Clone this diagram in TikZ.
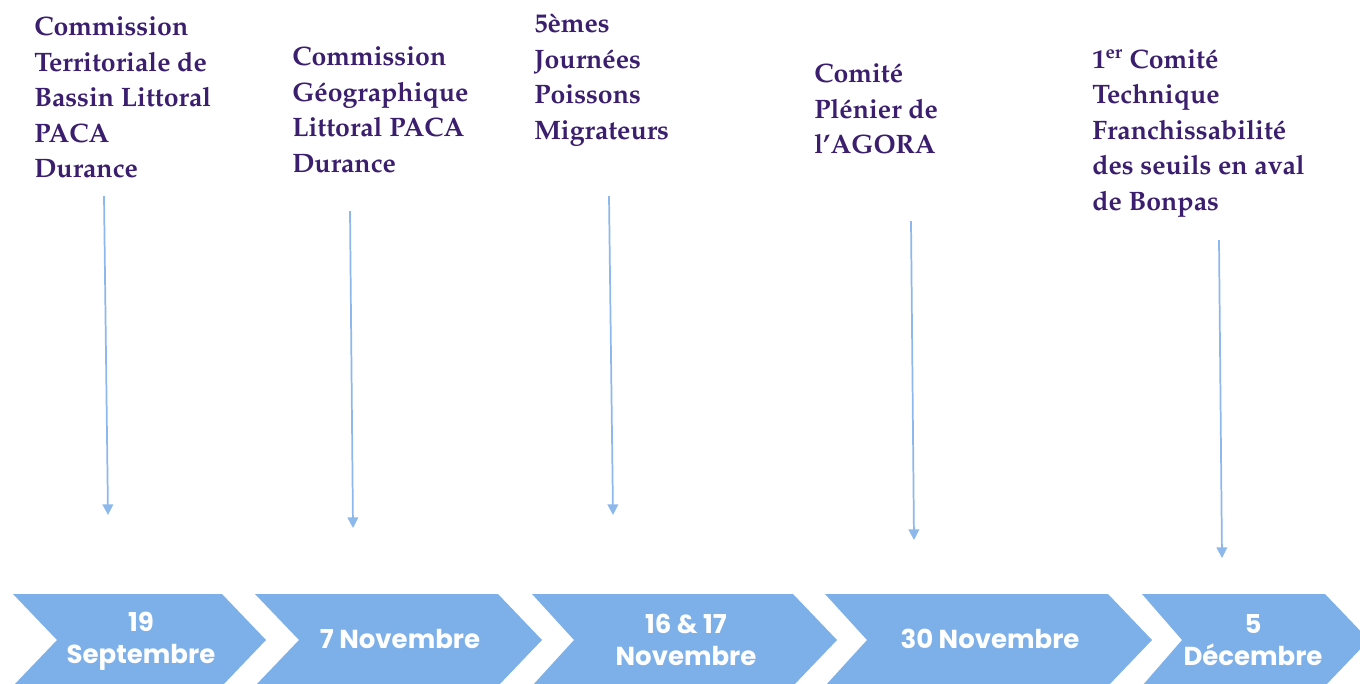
\documentclass[tikz,border=0pt]{standalone}
\usepackage[T1]{fontenc}
\usepackage{fontspec}
\usepackage{tikz}
\usetikzlibrary{arrows.meta}
\newfontfamily\datefont{Poppins}
\definecolor{chevblue}{HTML}{7DB0E9}
\definecolor{arrowblue}{HTML}{8CB8EC}
\definecolor{eventpurple}{HTML}{3B1F6E}
\newcommand{\eventfont}{\fontencoding{T1}\fontfamily{ppl}\bfseries\fontsize{20}{26.6}\selectfont}

\tikzset{
	event/.style={anchor=north west, inner sep=0pt, align=left, text=eventpurple, font=\eventfont},
	datelabel/.style={align=center, inner sep=0pt, text=white, font=\datefont\bfseries\fontsize{19.5}{24}\selectfont},
	chevron/.style={fill=chevblue, draw=none},
	link/.style={draw=arrowblue, line width=1.3pt, -{Triangle[width=8pt,length=8pt]}}
}

\begin{document}
\begin{tikzpicture}[x=0.75pt, y=-0.75pt]
				\useasboundingbox (0,0) rectangle (1360,683);
				\begin{scope}
					\fill[chevron] (13,594) -- (222,594) -- (266,640) -- (222,686) -- (13,686) -- (57,640) -- cycle; % 19 sept
					\fill[chevron] (255,594) -- (498,594) -- (542,640) -- (498,686) -- (255,686) -- (299,640) -- cycle; % 7 nov
					\fill[chevron] (532,594) -- (793,594) -- (837,640) -- (793,686) -- (532,686) -- (574,640) -- cycle; % 16-17 nov
					\fill[chevron] (825,594) -- (1108,594) -- (1152,640) -- (1108,686) -- (825,686) -- (867,640) -- cycle; % 30 nov
					\fill[chevron] (1142,594) -- (1325,594) -- (1369,640) -- (1325,686) -- (1142,686) -- (1182,640) -- cycle; % 5 dec

					\node[datelabel] (date1) at (141,641) {19\\Septembre};
					\node[datelabel] (date2) at (400,639) {7 Novembre};
					\node[datelabel] (date3) at (686,640) {16 \& 17\\Novembre};
					\node[datelabel] (date4) at (990,639) {30 Novembre};
					\node[datelabel] (date5) at (1253,640) {5\\Décembre};

					\node[event] (ev1) at (34,17) {Commission\\Territoriale de\\Bassin Littoral\\PACA\\Durance};
					\node[event] (ev2) at (292,47) {Commission\\Géographique\\Littoral PACA\\Durance};
					\node[event] (ev3) at (534,14) {5èmes\\Journées\\Poissons\\Migrateurs};
					\node[event] (ev4) at (814,64) {Comité\\Plénier de\\l'AGORA};
					\node[event] (ev5) at (1092,49) {1\textsuperscript{er} Comité\\Technique\\Franchissabilité\\des seuils en aval\\de Bonpas};

					\coordinate (a1) at (104,196); \coordinate (b1) at (108,515);
					\coordinate (a2) at (350,211); \coordinate (b2) at (353,528);
					\coordinate (a3) at (609,196); \coordinate (b3) at (613,515);
					\coordinate (a4) at (911,221); \coordinate (b4) at (914,540);
					\coordinate (a5) at (1219,240); \coordinate (b5) at (1222,558);

					\draw[link] (a1) -- (b1); % vers 19 sept
					\draw[link] (a2) -- (b2); % vers 7 nov
					\draw[link] (a3) -- (b3); % vers 16-17 nov
					\draw[link] (a4) -- (b4); % vers 30 nov
					\draw[link] (a5) -- (b5); % vers 5 dec
				\end{scope}
			\end{tikzpicture}
\end{document}
